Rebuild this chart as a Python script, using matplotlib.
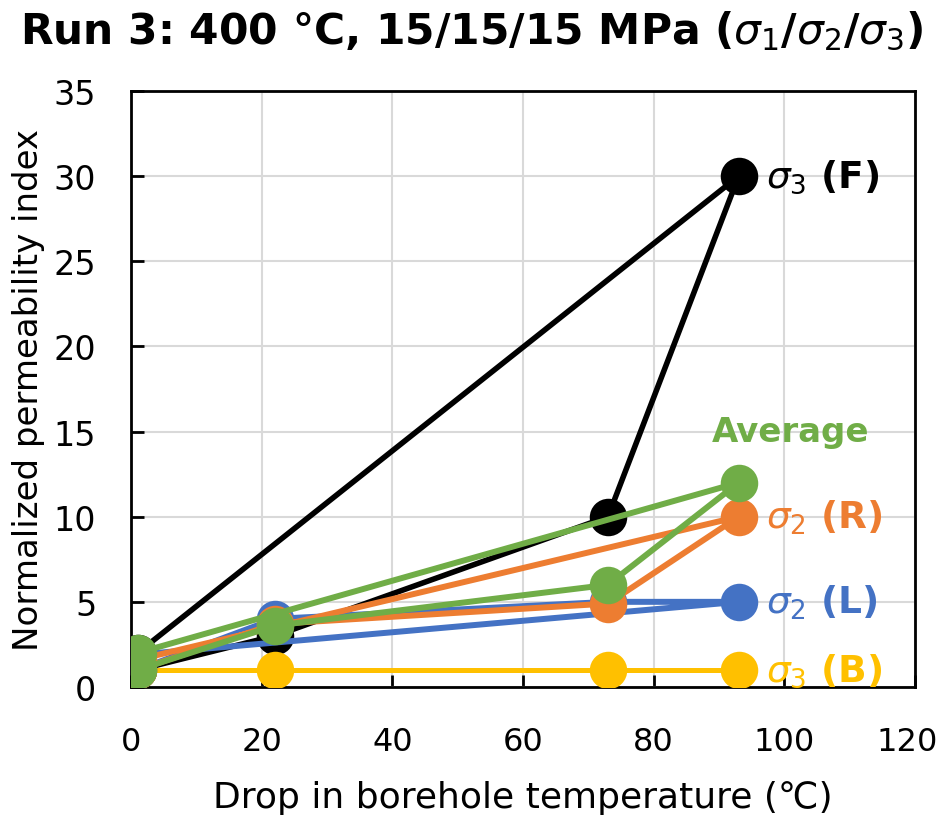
import matplotlib
matplotlib.use("Agg")
import matplotlib.pyplot as plt
from matplotlib.transforms import ScaledTranslation

# ---- data ----
temp_drop = [1, 93, 73, 22, 1]
sigma3_F = [2.0, 30.0, 10.0, 3.0, 1.0]
sigma3_B = [1.0, 1.0, 1.0, 1.0, 1.0]
sigma2_L = [1.9, 5.0, 5.0, 4.0, 1.0]
sigma2_R = [1.6, 10.0, 4.9, 3.7, 1.0]
average = [2.0, 12.0, 6.0, 3.6, 1.0]

series_names = [r"$\sigma_3$ (F)", r"$\sigma_3$ (B)", r"$\sigma_2$ (L)", r"$\sigma_2$ (R)", "Average"]
colors = ["#000000", "#FFC000", "#4472C4", "#ED7D31", "#70AD47"]

x_ticks = [0, 20, 40, 60, 80, 100, 120]
y_ticks = [0, 5, 10, 15, 20, 25, 30, 35]

plt.rcParams["font.family"] = ["DejaVu Sans"]
plt.rcParams["mathtext.fontset"] = "dejavusans"

fig = plt.figure(figsize=(9.44, 8.2), dpi=100)
ax = fig.add_axes([0.1388, 0.161, 0.8305, 0.7268])

data = [sigma3_F, sigma3_B, sigma2_L, sigma2_R, average]
lws = [4.0, 3.4, 4.3, 4.3, 4.3]
for ys, c, lw in zip(data, colors, lws):
    ax.plot(temp_drop, ys, color=c, lw=lw, marker="o", markersize=27,
            markeredgewidth=0, solid_joinstyle="round", zorder=3)

ax.set_xlim(0, 120)
ax.set_ylim(0, 35)
ax.set_xticks(x_ticks)
ax.set_yticks(y_ticks)
ax.grid(True, color="#d9d9d9", lw=1.5)
ax.set_axisbelow(True)
for s in ax.spines.values():
    s.set_linewidth(2)
    s.set_color("black")
ax.tick_params(axis="y", direction="in", length=9, width=2, labelsize=24, colors="black", pad=25)
ax.tick_params(axis="x", direction="in", length=9, width=2, labelsize=23, colors="black", pad=28)

ax.set_xlabel("Drop in borehole temperature (\u2103)", fontsize=26, labelpad=17)
ax.set_ylabel("Normalized permeability index", fontsize=24.5, labelpad=6)

fig.suptitle(r"Run 3: 400 °C, 15/15/15 MPa ($\sigma_1$/$\sigma_2$/$\sigma_3$)",
             fontsize=30.5, fontweight="bold", x=0.5, y=0.988)

# series labels
label_pts = [(93, sigma3_F[1], series_names[0], colors[0]),
             (93, sigma2_R[1], series_names[3], colors[3]),
             (93, sigma2_L[1], series_names[2], colors[2]),
             (93, sigma3_B[1], series_names[1], colors[1])]
for xv, yv, txt, c in label_pts:
    ax.annotate(txt, xy=(xv, yv), xytext=(20, 0), textcoords="offset points",
                va="center", ha="left", fontsize=27, fontweight="bold", color=c)
ax.annotate(series_names[4], xy=(93, average[1]), xytext=(-19, 37), textcoords="offset points",
            va="center", ha="left", fontsize=24.5, fontweight="bold", color=colors[4])

fig.canvas.draw()
last = ax.get_xticklabels()[-1]
last.set_transform(last.get_transform() + ScaledTranslation(-8 / 100, 0, fig.dpi_scale_trans))

fig.savefig("out.png", dpi=100)
